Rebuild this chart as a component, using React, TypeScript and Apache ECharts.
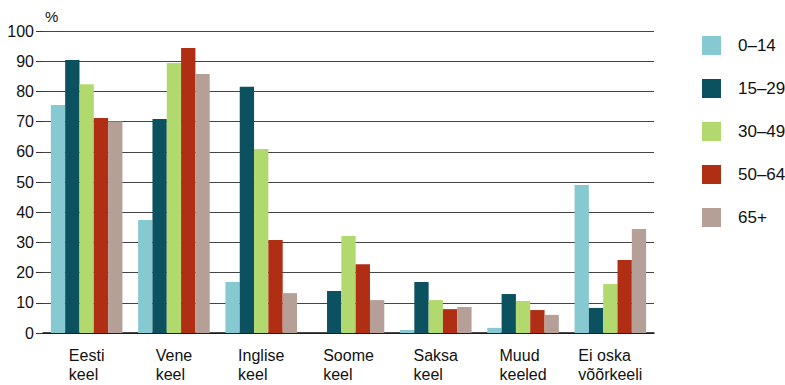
import React, { useEffect, useRef } from "react";
import * as echarts from "echarts";

const categories = ["Eesti\nkeel", "Vene\nkeel", "Inglise\nkeel", "Soome\nkeel", "Saksa\nkeel", "Muud\nkeeled", "Ei oska\nvõõrkeeli"];
const seriesNames = ["0–14", "15–29", "30–49", "50–64", "65+"];
const colors = ["#86c9d0", "#0b5160", "#b2d96e", "#b02e13", "#b69f96"];
const age0_14 = [75.5, 37.4, 16.9, 0, 1.0, 1.7, 49.0];
const age15_29 = [90.4, 70.9, 81.5, 13.9, 16.9, 12.9, 8.3];
const age30_49 = [82.4, 89.4, 60.9, 32.1, 10.9, 10.6, 16.2];
const age50_64 = [71.2, 94.4, 30.8, 22.8, 7.9, 7.6, 24.2];
const age65 = [70.0, 85.8, 13.2, 10.9, 8.6, 6.0, 34.4];
const yTicks = [0, 10, 20, 30, 40, 50, 60, 70, 80, 90, 100];

export default function App() {
  const ref = useRef<HTMLDivElement>(null);
  useEffect(() => {
    if (!ref.current) return;
    const chart = echarts.init(ref.current, null, { renderer: "svg" });
    const font = "'Liberation Sans', Arial, sans-serif";
    const data = [age0_14, age15_29, age30_49, age50_64, age65];
    chart.setOption({
      animation: false,
      textStyle: { fontFamily: font },
      grid: { left: 43, right: 131, top: 31, bottom: 52, containLabel: false },
      legend: {
        orient: "vertical",
        left: 697,
        top: 31,
        itemWidth: 19,
        itemHeight: 19,
        itemGap: 24,
        icon: "rect",
        data: seriesNames,
        textStyle: { fontSize: 17, color: "#111", fontFamily: font, padding: [0, 0, 0, 12] },
      },
      xAxis: {
        type: "category",
        data: categories,
        axisLine: { show: true, lineStyle: { color: "#111", width: 1.5 } },
        axisTick: { show: false },
        axisLabel: {
          interval: 0,
          fontSize: 16,
          color: "#111",
          margin: 13,
          lineHeight: 19,
          fontFamily: font,
          formatter: (v: string) => v.split("\n").map((l) => `{a|${l}}`).join("\n"),
          rich: { a: { align: "left", fontSize: 16, lineHeight: 19, color: "#111", fontFamily: font } },
        },
      },
      yAxis: {
        type: "value",
        min: yTicks[0],
        max: yTicks[yTicks.length - 1],
        interval: 10,
        name: "%",
        nameLocation: "end",
        nameGap: 7,
        nameTextStyle: { fontSize: 15, color: "#111", align: "left", padding: [0, 0, 0, 2], fontFamily: font },
        axisLine: { show: false },
        axisTick: { show: true, length: 7, lineStyle: { color: "#333" } },
        axisLabel: { fontSize: 16, color: "#111", margin: 9, fontFamily: font },
        splitLine: { lineStyle: { color: "#444", width: 1 } },
      },
      series: seriesNames.map((n, i) => ({
        name: n,
        type: "bar",
        data: data[i],
        itemStyle: { color: colors[i] },
        barGap: "0%",
        barCategoryGap: "18%",
      })),
    });
    return () => chart.dispose();
  }, []);
  return <div ref={ref} style={{ width: 785, height: 385, position: "absolute", left: 0, top: 0 }} />;
}
